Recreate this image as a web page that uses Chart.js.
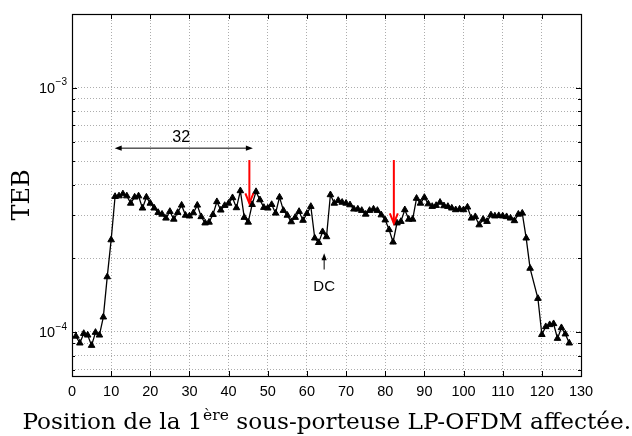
<!DOCTYPE html>
<html><head><meta charset="utf-8">
<script src="https://cdn.jsdelivr.net/npm/chart.js@4.4.1/dist/chart.umd.min.js"></script>
<style>html,body{margin:0;padding:0;background:#fff;}canvas{display:block;}</style>
</head><body>
<canvas id="c" width="632" height="436"></canvas>
<script>
// ---- data ----
const positions = [1,2,3,4,5,6,7,8,9,10,11,12,13,14,15,16,17,18,19,20,21,22,23,24,25,26,27,28,29,30,
 31,32,33,34,35,36,37,38,39,40,41,42,43,44,45,46,47,48,49,50,51,52,53,54,55,56,57,58,59,60,
 61,62,63,64,65,66,67,68,69,70,71,72,73,74,75,76,77,78,79,80,81,82,83,84,85,86,87,88,89,90,
 91,92,93,94,95,96,97,98,99,100,101,102,103,104,105,106,107,108,109,110,111,112,113,114,115,116,117,119,120,
 121,122,123,124,125,126,127];
const teb = [9.6e-5,9.0e-5,9.85e-5,9.7e-5,8.8e-5,9.95e-5,9.7e-5,1.15e-4,1.68e-4,2.38e-4,
 3.58e-4,3.6e-4,3.67e-4,3.6e-4,3.36e-4,3.56e-4,3.6e-4,3.21e-4,3.56e-4,3.36e-4,
 3.21e-4,3.08e-4,3.03e-4,2.92e-4,3.11e-4,2.89e-4,3.08e-4,3.3e-4,3.0e-4,2.98e-4,
 3.07e-4,3.3e-4,2.96e-4,2.79e-4,2.81e-4,3.02e-4,3.41e-4,3.15e-4,3.29e-4,3.36e-4,
 3.54e-4,3.22e-4,3.78e-4,2.94e-4,2.81e-4,3.32e-4,3.75e-4,3.47e-4,3.23e-4,3.21e-4,
 3.32e-4,3.06e-4,3.56e-4,3.14e-4,3.0e-4,2.82e-4,2.94e-4,3.11e-4,2.86e-4,3.05e-4,
 3.26e-4,2.42e-4,2.32e-4,2.57e-4,2.45e-4,3.64e-4,3.36e-4,3.45e-4,3.39e-4,3.36e-4,
 3.31e-4,3.18e-4,3.18e-4,3.14e-4,3.03e-4,3.14e-4,3.18e-4,3.14e-4,3.01e-4,2.87e-4,
 2.62e-4,2.33e-4,2.79e-4,2.83e-4,3.16e-4,2.89e-4,2.89e-4,3.52e-4,3.36e-4,3.55e-4,
 3.34e-4,3.26e-4,3.29e-4,3.39e-4,3.28e-4,3.26e-4,3.21e-4,3.16e-4,3.18e-4,3.16e-4,
 3.24e-4,2.92e-4,2.96e-4,2.74e-4,2.89e-4,2.83e-4,3.01e-4,2.98e-4,2.99e-4,2.98e-4,
 2.96e-4,2.92e-4,2.85e-4,3.03e-4,3.06e-4,2.42e-4,1.82e-4,1.37e-4,9.75e-5,
 1.05e-4,1.07e-4,1.08e-4,9.4e-5,1.04e-4,9.8e-5,9.0e-5];
const xTickValues = [0,10,20,30,40,50,60,70,80,90,100,110,120,130];
const yGridValues = [7e-5,8e-5,9e-5,1e-4,2e-4,3e-4,4e-4,5e-4,6e-4,7e-4,8e-4,9e-4,1e-3,2e-3];
const yLabelValues = [1e-4,1e-3];
const yLabelBase = '10';
const yLabelExponents = ['\u22124','\u22123'];
const xTitleParts = ['Position de la 1','\u00e8re',' sous-porteuse LP-OFDM affect\u00e9e.'];
const yTitle = 'TEB';
const spanLabel = '32';
const dcLabel = 'DC';
// annotation anchors in data units
const spanArrow = {x1:10.9, x2:46.2, y:5.65e-4, tx:27.9, ty:6.27e-4};
const redArrows = [{x:45.3, y1:5.05e-4, y2:3.36e-4},{x:82.2, y1:5.05e-4, y2:2.78e-4}];
const dcArrow = {x:64.4, y1:1.8e-4, y2:2.1e-4, ty:1.53e-4};

const SANS = '"Liberation Sans", Arial, Helvetica, sans-serif';
const SERIF = '"DejaVu Serif", "Liberation Serif", serif';

function arrowHeadFilled(ctx, x, y, ang, len, hw){
  ctx.beginPath();
  ctx.moveTo(x, y);
  ctx.lineTo(x - len*Math.cos(ang) - hw*Math.sin(ang), y - len*Math.sin(ang) + hw*Math.cos(ang));
  ctx.lineTo(x - len*Math.cos(ang) + hw*Math.sin(ang), y - len*Math.sin(ang) - hw*Math.cos(ang));
  ctx.closePath();
  ctx.fill();
}

const decor = {
  id:'decor',
  beforeDraw(chart){
    const ctx = chart.ctx;
    ctx.save(); ctx.fillStyle='#fff'; ctx.fillRect(0,0,chart.width,chart.height); ctx.restore();
  },
  afterDraw(chart){
    const ctx = chart.ctx, a = chart.chartArea, xs = chart.scales.x, ys = chart.scales.y;
    ctx.save();
    // inner tick marks
    ctx.strokeStyle='#000'; ctx.lineWidth=1;
    ctx.beginPath();
    xTickValues.forEach(v=>{
      const px = Math.round(xs.getPixelForValue(v))+0.5;
      ctx.moveTo(px,a.bottom); ctx.lineTo(px,a.bottom-5);
      ctx.moveTo(px,a.top); ctx.lineTo(px,a.top+5);
    });
    yGridValues.forEach(v=>{
      const py = Math.round(ys.getPixelForValue(v))+0.5;
      const L = yLabelValues.includes(v) ? 5 : 3;
      ctx.moveTo(a.left,py); ctx.lineTo(a.left+L,py);
      ctx.moveTo(a.right,py); ctx.lineTo(a.right-L,py);
    });
    ctx.stroke();
    // box
    ctx.lineWidth=1.2;
    ctx.strokeRect(Math.round(a.left)+0.5, Math.round(a.top)+0.5, Math.round(a.right-a.left), Math.round(a.bottom-a.top));

    // y tick labels with exponent
    ctx.fillStyle='#000';
    yLabelValues.forEach((v,i)=>{
      const py = ys.getPixelForValue(v);
      ctx.font = '10px '+SANS;
      const we = ctx.measureText(yLabelExponents[i]).width;
      const ex = a.left - 5 - we;
      ctx.textAlign='left'; ctx.textBaseline='middle';
      ctx.fillText(yLabelExponents[i], ex, py-5);
      ctx.font = '14.5px '+SANS;
      ctx.textAlign='right';
      ctx.fillText(yLabelBase, ex-0.5, py+1);
    });

    // y title
    ctx.save();
    ctx.translate(23, (a.top+a.bottom)/2);
    ctx.rotate(-Math.PI/2);
    ctx.font = '24px '+SERIF;
    ctx.textAlign='center'; ctx.textBaseline='middle';
    ctx.fillText(yTitle, 0, 0);
    ctx.restore();

    // x title with superscript
    const big = '23.2px '+SERIF, small = '15.5px '+SERIF;
    ctx.font = big; const w0 = ctx.measureText(xTitleParts[0]).width; const w2 = ctx.measureText(xTitleParts[2]).width;
    ctx.font = small; const w1 = ctx.measureText(xTitleParts[1]).width;
    const total = w0+w1+w2;
    let tx = (a.left+a.right)/2 - total/2;
    const ty = 429;
    ctx.textAlign='left'; ctx.textBaseline='alphabetic';
    ctx.font = big; ctx.fillText(xTitleParts[0], tx, ty); tx += w0;
    ctx.font = small; ctx.fillText(xTitleParts[1], tx+0.5, ty-9); tx += w1+0.5;
    ctx.font = big; ctx.fillText(xTitleParts[2], tx, ty);

    // double arrow "32"
    const sx1 = xs.getPixelForValue(spanArrow.x1), sx2 = xs.getPixelForValue(spanArrow.x2), sy = ys.getPixelForValue(spanArrow.y);
    ctx.strokeStyle='#000'; ctx.fillStyle='#000'; ctx.lineWidth=1;
    ctx.beginPath(); ctx.moveTo(sx1+3, sy); ctx.lineTo(sx2-3, sy); ctx.stroke();
    arrowHeadFilled(ctx, sx1, sy, Math.PI, 7, 2.6);
    arrowHeadFilled(ctx, sx2, sy, 0, 7, 2.6);
    ctx.font='16px '+SANS; ctx.textAlign='center'; ctx.textBaseline='middle';
    ctx.fillText(spanLabel, xs.getPixelForValue(spanArrow.tx), ys.getPixelForValue(spanArrow.ty));

    // DC arrow
    const dx = xs.getPixelForValue(dcArrow.x), dy1 = ys.getPixelForValue(dcArrow.y1), dy2 = ys.getPixelForValue(dcArrow.y2);
    ctx.beginPath(); ctx.moveTo(dx, dy1); ctx.lineTo(dx, dy2+3); ctx.stroke();
    arrowHeadFilled(ctx, dx, dy2, -Math.PI/2, 7, 2.6);
    ctx.font='15px '+SANS;
    ctx.fillText(dcLabel, dx, ys.getPixelForValue(dcArrow.ty));

    // red arrows
    ctx.strokeStyle='#ff0000'; ctx.lineWidth=2; ctx.lineCap='butt';
    redArrows.forEach(r=>{
      const rx = xs.getPixelForValue(r.x), ry1 = ys.getPixelForValue(r.y1), ry2 = ys.getPixelForValue(r.y2);
      ctx.beginPath(); ctx.moveTo(rx, ry1); ctx.lineTo(rx, ry2); ctx.stroke();
      ctx.beginPath(); ctx.moveTo(rx-4, ry2-10); ctx.lineTo(rx, ry2); ctx.lineTo(rx+4, ry2-10); ctx.stroke();
    });
    ctx.restore();
  }
};

new Chart(document.getElementById('c'), {
  type:'line',
  data:{ datasets:[{
    data: positions.map((x,i)=>({x:x, y:teb[i]})),
    borderColor:'#000', borderWidth:1.3, tension:0,
    pointStyle:'triangle', pointRadius:3.8, pointBorderWidth:1,
    pointBackgroundColor:'#000', pointBorderColor:'#000', fill:false
  }]},
  options:{
    responsive:false, animation:false, devicePixelRatio:1,
    layout:{padding:{left:0,right:51,top:14,bottom:0}},
    plugins:{legend:{display:false}, tooltip:{enabled:false}},
    scales:{
      x:{ type:'linear', min:0, max:130,
        ticks:{stepSize:10, autoSkip:false, maxRotation:0, color:'#000', padding:7, font:{family:SANS, size:14.5}},
        grid:{color:'rgba(0,0,0,0.32)', lineWidth:1, drawTicks:false},
        border:{display:false, dash:[1,2]},
        afterFit(s){ s.height = 60; }
      },
      y:{ type:'logarithmic', min:6.6e-5, max:2e-3,
        afterBuildTicks(s){ s.ticks = yGridValues.map(v=>({value:v})); },
        ticks:{display:false},
        grid:{color:'rgba(0,0,0,0.32)', lineWidth:1, drawTicks:false},
        border:{display:false, dash:[1,2]},
        afterFit(s){ s.width = 72; }
      }
    }
  },
  plugins:[decor]
});
</script>
</body></html>
